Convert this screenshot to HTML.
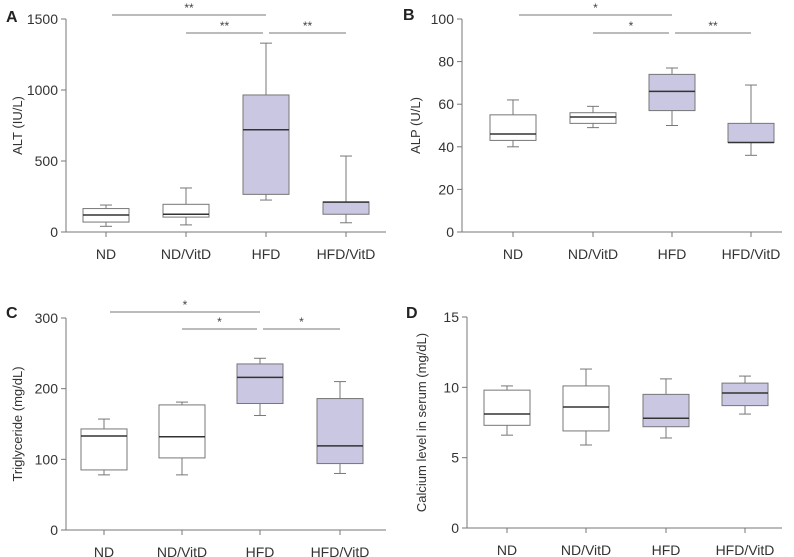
<!DOCTYPE html>
<html><head><meta charset="utf-8"><style>
body{margin:0;background:#fff;}
svg{display:block;font-family:"Liberation Sans",sans-serif;}
</style></head><body>
<svg id="chart" width="794" height="557" viewBox="0 0 794 557"></svg>
<script>
const categories=["ND","ND/VitD","HFD","HFD/VitD"];
const fills=["#fff","#fff","#c9c7e1","#c9c7e1"];
// [min,q1,median,q3,max]
const altData=[[40,70,120,165,190],[50,105,125,195,310],[225,265,720,965,1330],[65,125,210,212,535]];
const alpData=[[40,43,46,55,62],[49,51,54,56,59],[50,57,66,74,77],[36,42,42,51,69]];
const tgData=[[78,85,133,143,157],[78,102,132,177,181],[162,179,216,235,243],[80,94,119,186,210]];
const caData=[[6.6,7.3,8.1,9.8,10.1],[5.9,6.9,8.6,10.1,11.3],[6.4,7.2,7.8,9.5,10.6],[8.1,8.7,9.6,10.3,10.8]];
const altTicks=[0,500,1000,1500];
const alpTicks=[0,20,40,60,80,100];
const tgTicks=[0,100,200,300];
const caTicks=[0,5,10,15];
// significance: [fromIdx,toIdx,level,label]
const altSig=[[0,2,0,"**"],[1,2,1,"**"],[2,3,1,"**"]];
const alpSig=[[0,2,0,"*"],[1,2,1,"*"],[2,3,1,"**"]];
const tgSig=[[0,2,0,"*"],[1,2,1,"*"],[2,3,1,"*"]];
const caSig=[];

const NS="http://www.w3.org/2000/svg";
const svg=document.getElementById('chart');
function mk(tag,attrs,parent,text){const e=document.createElementNS(NS,tag);for(const k in attrs)e.setAttribute(k,attrs[k]);if(text!==undefined)e.textContent=text;(parent||svg).appendChild(e);return e;}

const panels=[
 {id:"a",letter:"A",lx:6,ly:22,ax:66,top:19,bot:232,right:386,xs:[106,186,266,346],max:1500,data:altData,ticks:altTicks,sig:altSig,sigY:[15,33],title:"ALT (IU/L)",tx:22},
 {id:"b",letter:"B",lx:403,ly:20,ax:462,top:19,bot:232,right:782,xs:[513,593,672,751],max:100,data:alpData,ticks:alpTicks,sig:alpSig,sigY:[15,33],title:"ALP (U/L)",tx:420},
 {id:"c",letter:"C",lx:6,ly:318,ax:66,top:318,bot:530,right:386,xs:[104,182,260,340],max:300,data:tgData,ticks:tgTicks,sig:tgSig,sigY:[312,329],title:"Triglyceride (mg/dL)",tx:22},
 {id:"d",letter:"D",lx:406,ly:318,ax:467,top:317,bot:528,right:782,xs:[507,586,666,745],max:15,data:caData,ticks:caTicks,sig:caSig,sigY:[0,0],title:"Calcium level in serum (mg/dL)",tx:426}
];
const col="#777";
panels.forEach(p=>{
 const g=mk('g',{});
 
 
 const y=v=>p.bot-(v/p.max)*(p.bot-p.top);
 const lt=mk('text',{x:p.lx,y:p.ly,'font-size':16,'font-weight':'bold',fill:'#222'},g,p.letter);
 
 
 const yax=mk('line',{x1:p.ax,y1:p.top,x2:p.ax,y2:p.bot,stroke:col,'stroke-width':1},g);
 
 
 const xax=mk('line',{x1:p.ax,y1:p.bot,x2:p.right,y2:p.bot,stroke:col,'stroke-width':1},g);
 
 
 p.ticks.forEach(t=>{
  mk('line',{x1:p.ax-5,y1:y(t),x2:p.ax,y2:y(t),stroke:col},g);
  const tl=mk('text',{x:p.ax-8,y:y(t)+5,'font-size':14,'text-anchor':'end',fill:'#333'},g,t);
  
  
 });
 const cy=(p.top+p.bot)/2;
 const yt=mk('text',{x:p.tx,y:cy,'font-size':13,'text-anchor':'middle',fill:'#333',transform:`rotate(-90 ${p.tx} ${cy})`},g,p.title);
 
 
 categories.forEach((c,i)=>{
  const x=p.xs[i];
  mk('line',{x1:x,y1:p.bot,x2:x,y2:p.bot+5,stroke:col},g);
  const xl=mk('text',{x:x,y:p.bot+27,'font-size':14,'text-anchor':'middle',fill:'#333'},g,c);
  
  
  const d=p.data[i];const w=46;
  const bg=mk('g',{},g);
  
  
  mk('line',{x1:x,y1:y(d[0]),x2:x,y2:y(d[1]),stroke:col},bg);
  mk('line',{x1:x,y1:y(d[3]),x2:x,y2:y(d[4]),stroke:col},bg);
  mk('line',{x1:x-6,y1:y(d[0]),x2:x+6,y2:y(d[0]),stroke:col},bg);
  mk('line',{x1:x-6,y1:y(d[4]),x2:x+6,y2:y(d[4]),stroke:col},bg);
  mk('rect',{x:x-w/2,y:y(d[3]),width:w,height:y(d[1])-y(d[3]),fill:fills[i],stroke:col,'stroke-width':1},bg);
  mk('line',{x1:x-w/2,y1:y(d[2]),x2:x+w/2,y2:y(d[2]),stroke:'#333','stroke-width':1.5},bg);
 });
 p.sig.forEach(s=>{
  const sy=p.sigY[s[2]];
  const x1=p.xs[s[0]]+(s[2]===1&&s[0]===2?3:(s[0]===0?6:0));
  const x2=p.xs[s[1]]-(s[2]===1&&s[0]!==2?3:0);
  const sg=mk('g',{},g);
  
  
  mk('line',{x1:x1,y1:sy,x2:x2,y2:sy,stroke:col},sg);
  mk('text',{x:(x1+x2)/2,y:sy-3,'font-size':12,'text-anchor':'middle',fill:'#444'},sg,s[3]);
 });
});
</script>
</body></html>
